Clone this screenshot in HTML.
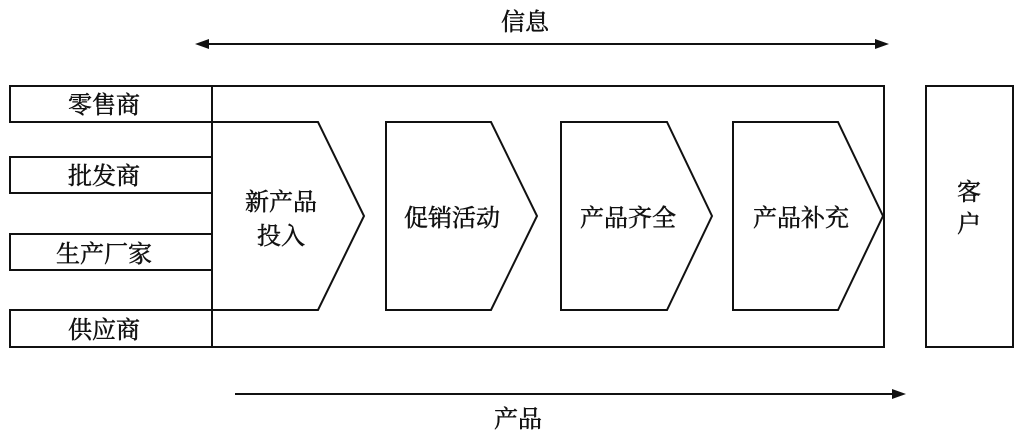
<!DOCTYPE html>
<html><head><meta charset="utf-8"><style>
html,body{margin:0;padding:0;background:#fff;}
svg text{font-family:"Liberation Serif","Noto Serif CJK SC","Noto Sans CJK SC",serif;font-size:24px;fill:#111;stroke:#111;stroke-width:0.5;}
</style></head><body>
<svg width="1024" height="436" viewBox="0 0 1024 436" xmlns="http://www.w3.org/2000/svg">
<g fill="none" stroke="#111" stroke-width="2">
<rect x="212" y="86" width="672" height="261"/>
<rect x="10" y="86" width="202" height="36"/>
<rect x="10" y="157" width="202" height="36"/>
<rect x="10" y="234" width="202" height="36"/>
<rect x="10" y="310" width="202" height="37"/>
<rect x="926" y="86" width="87" height="261"/>
<polyline points="212,122 318,122 364,216 318,310 212,310"/>
<polygon points="386,122 491,122 537,216 491,310 386,310"/>
<polygon points="561,122 667,122 712,216 667,310 561,310"/>
<polygon points="733,122 838,122 883,216 838,310 733,310"/>
<line x1="206" y1="44" x2="878" y2="44"/>
<line x1="235" y1="394" x2="895" y2="394"/>
</g>
<g fill="#111">
<polygon points="195,44 209,39 209,49"/>
<polygon points="889,44 875,39 875,49"/>
<polygon points="906,394 892,389 892,399"/>
</g>
<g text-anchor="middle">
<text x="525" y="30">信息</text>
<text x="518" y="427">产品</text>
<text x="104" y="113">零售商</text>
<text x="104" y="184">批发商</text>
<text x="104" y="262">生产厂家</text>
<text x="104" y="338">供应商</text>
<text x="281" y="210">新产品</text>
<text x="281" y="244">投入</text>
<text x="452" y="226">促销活动</text>
<text x="628" y="226">产品齐全</text>
<text x="801" y="226">产品补充</text>
<text x="969" y="200">客</text>
<text x="969" y="232">户</text>
</g>
</svg>
</body></html>
